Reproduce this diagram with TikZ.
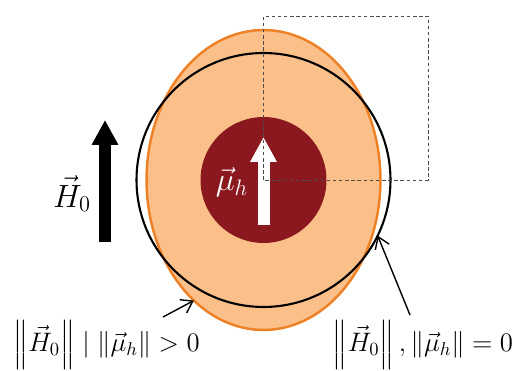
\documentclass[tikz,border=0pt]{standalone}
\usepackage{amsmath,amssymb}
\usepackage{tikz}
\usetikzlibrary{arrows.meta,positioning,shapes.geometric,calc}

\definecolor{shellfill}{RGB}{251,192,138}
\definecolor{shelledge}{RGB}{238,128,38}
\definecolor{coreRed}{RGB}{139,24,30}

\begin{document}
\begin{tikzpicture}[
    every node/.style={font=\Large},
    cond/.style={scale=1.056},
    sym/.style={font=\LARGE,scale=1.06},
    shell/.style={draw=shelledge,fill=shellfill,ellipse,line width=1.4pt,
                  minimum width=4.68cm,minimum height=6cm,inner sep=0pt,outer sep=0pt},
    ring/.style={draw,circle,line width=1.2pt,minimum size=5.08cm,inner sep=0pt,outer sep=0pt},
    core/.style={circle,fill=coreRed,minimum size=2.52cm,inner sep=0pt},
    bigarrow/.style={line width=0.24cm,-{Triangle[length=0.5cm,width=0.5cm]}},
    pointer/.style={line width=0.8pt,-{Straight Barb[length=2.2mm,width=3mm]}},
    box/.style={draw=black!70,line width=0.5pt,dash pattern=on 2pt off 1.5pt},
    x=0.02cm, y=0.02cm
]
\useasboundingbox (0,0) rectangle (517,371);

% shell (mu > 0) and bare field circle (mu = 0)
\node[shell] (SH) at (263.5,191) {};
\node[ring] (RG) at (263.5,191) {};

% core with moment
\node[core] (CR) at (263.5,191) {};
\coordinate (MB) at (263.5,146);
\coordinate (MT) at (263.5,234);
\draw[bigarrow,white] (MB) -- (MT);
\node[sym,white] (MU) at (232,189) {$\vec{\mu}_h$};

% dashed box
\coordinate (BX1) at (263.5,191);
\coordinate (BX2) at (428,355);
\draw[box] (BX1) rectangle (BX2);

% applied field
\coordinate (HB) at (105,129);
\coordinate (HT) at (105,251);
\draw[bigarrow,black] (HB) -- (HT);
\node[sym] (H0) at (72,177) {$\vec{H}_0$};

% labels
\node[cond] (LL) at (106.5,26) {$\left\|\vec{H}_0\right\| \mid \|\vec{\mu}_h\| > 0$};
\node[cond] (LR) at (423,26) {$\left\|\vec{H}_0\right\|, \|\vec{\mu}_h\| = 0$};
\coordinate (LLp) at (163,54);
\coordinate (LRp) at (410,56);
\draw[pointer] (LLp) -- (SH.240);
\draw[pointer] (LRp) -- (RG.-26);

\end{tikzpicture}
\end{document}
